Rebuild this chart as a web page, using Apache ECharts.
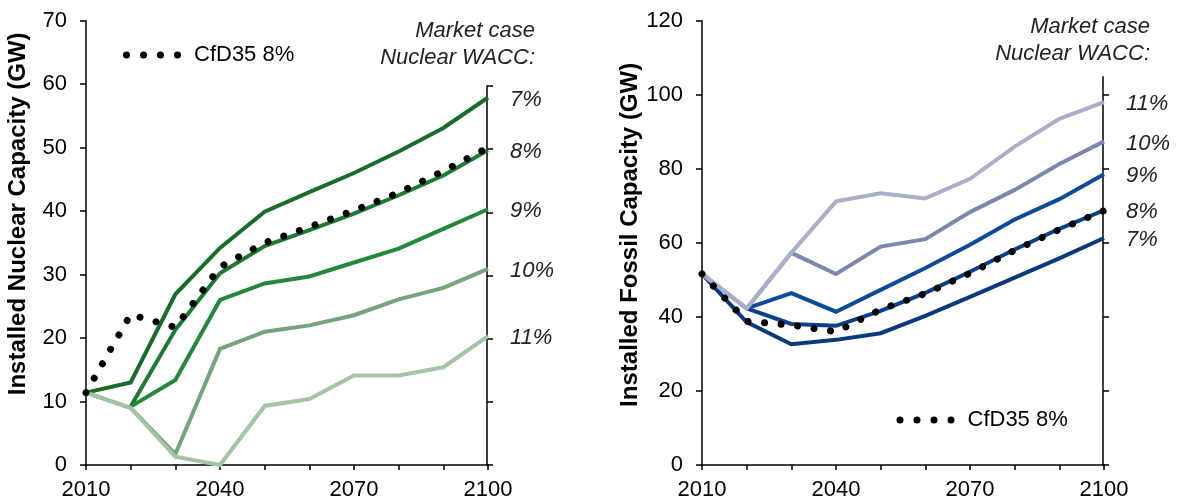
<!DOCTYPE html>
<html>
<head>
<meta charset="utf-8">
<script src="https://cdn.jsdelivr.net/npm/echarts@6/dist/echarts.min.js"></script>
<style>
html,body{margin:0;padding:0;background:#fff;}
#chart{width:1179px;height:504px;}
</style>
</head>
<body>
<div id="chart"></div>
<script>
// ---------- data ----------
var years = [2010, 2020, 2030, 2040, 2050, 2060, 2070, 2080, 2090, 2100];
var xTickLabels = [2010, 2040, 2070, 2100];
var waccNames = ['7%', '8%', '9%', '10%', '11%'];

// Nuclear capacity (GW), market case by nuclear WACC
var nuc7  = [11.4, 13.0, 26.9, 34.2, 39.9, 43.0, 46.0, 49.4, 53.1, 57.9];
var nuc8  = [null, 9.2, 21.3, 30.2, 34.5, 37.0, 39.6, 42.5, 45.6, 49.6];
var nuc9  = [null, 9.2, 13.4, 26.0, 28.6, 29.7, 31.9, 34.1, 37.2, 40.3];
var nuc10 = [11.4, 9.0, 1.7, 18.3, 21.0, 22.0, 23.6, 26.1, 27.9, 30.9];
var nuc11 = [11.4, 9.0, 1.3, 0.0, 9.3, 10.4, 14.1, 14.1, 15.4, 20.3];
var nucCfdYears = [2010, 2015, 2020, 2025, 2030, 2040, 2050, 2060, 2070, 2080, 2090, 2100];
var nucCfd = [11.4, 17.6, 23.7, 22.7, 21.7, 31.2, 35.0, 37.5, 40.1, 42.9, 46.3, 50.0];

// Fossil capacity (GW)
var fos7  = [51.6, 38.6, 32.6, 33.8, 35.6, 40.3, 45.4, 50.6, 55.8, 61.3];
var fos8  = [null, 42.3, 38.1, 37.6, 41.6, 46.5, 52.2, 58.2, 63.8, 68.8];
var fos9  = [null, 42.3, 46.4, 41.4, 47.3, 53.2, 59.5, 66.3, 71.8, 78.5];
var fos10 = [51.6, 42.3, 57.3, 51.6, 59.0, 61.0, 68.3, 74.3, 81.3, 87.4];
var fos11 = [51.6, 42.3, 57.3, 71.2, 73.4, 72.0, 77.3, 86.0, 93.5, 98.0];
var fosCfdYears = [2010, 2020, 2030, 2040, 2050, 2060, 2070, 2080, 2090, 2100];
var fosCfd = [51.6, 38.8, 37.8, 36.0, 42.0, 46.3, 51.8, 58.0, 63.6, 68.7];

var cfdName = 'CfD35 8%';
var headerText = 'Market case\nNuclear WACC:';

// ---------- styling ----------
var FONT = '"Liberation Sans", Arial, "DejaVu Sans", sans-serif';
var greenColors = ['#1b6a2e', '#1c7a35', '#24873c', '#76a37e', '#a4c3a7'];
var blueColors  = ['#0a3a7c', '#0b4086', '#0d4a98', '#7c87ae', '#a9afc8'];

function pairs(xs, ys) { return xs.map(function (x, i) { return [x, ys[i]]; }); }

function xAxisFor(gi) {
  return {
    type: 'value', gridIndex: gi, min: 2010, max: 2100, interval: 10,
    axisLine: { show: true, lineStyle: { color: '#000', width: 1.5 } },
    axisTick: { show: true, length: 5, lineStyle: { color: '#000', width: 1.5 } },
    splitLine: { show: false },
    axisLabel: {
      color: '#000', fontFamily: FONT, fontSize: 22, margin: 14,
      formatter: function (v) { return xTickLabels.indexOf(v) >= 0 ? String(v) : ''; }
    }
  };
}
function hiddenX(gi) {
  return { type: 'value', gridIndex: gi, min: 0, max: 1, show: false };
}

function mainY(gi, max, interval, name, padLeft) {
  return {
    type: 'value', gridIndex: gi, min: 0, max: max, interval: interval, position: 'left',
    name: name, nameLocation: 'middle', nameGap: 56, nameRotate: 90,
    nameTextStyle: { fontFamily: FONT, fontSize: 24, fontWeight: 'bold', color: '#000', padding: [0, 0, 0, padLeft] },
    axisLine: { show: true, lineStyle: { color: '#000', width: 1.5 } },
    axisTick: { show: true, length: 6, lineStyle: { color: '#000', width: 1.5 } },
    splitLine: { show: false },
    axisLabel: { color: '#000', fontFamily: FONT, fontSize: 22, margin: 19 }
  };
}

function sideY(gi, max, interval, ticks) {
  return {
    type: 'value', gridIndex: gi, min: 0, max: max, interval: interval, position: 'right',
    axisLine: { show: true, lineStyle: { color: '#000', width: 1.5 } },
    axisTick: { show: true, length: 6, customValues: ticks, lineStyle: { color: '#000', width: 1.5 } },
    splitLine: { show: false },
    axisLabel: { show: false }
  };
}

function waccSeries(name, data, color, xi, yi) {
  return {
    type: 'line', name: name, xAxisIndex: xi, yAxisIndex: yi,
    data: pairs(years, data), symbol: 'none', silent: true,
    lineStyle: { color: color, width: 4, cap: 'butt', join: 'miter' },
    endLabel: {
      show: true, formatter: name, distance: 22, offset: [0, 2],
      fontFamily: FONT, fontSize: 22, fontStyle: 'italic', color: '#222'
    }
  };
}

function cfdSeries(xs, ys, xi, yi) {
  return {
    type: 'line', name: cfdName, xAxisIndex: xi, yAxisIndex: yi,
    data: pairs(xs, ys), symbol: 'none', silent: true, z: 5,
    lineStyle: { color: '#000', width: 7, type: [0.01, 16.6], cap: 'round' }
  };
}

var dotsIcon = 'path://M0,3.5a3.5,3.5 0 1,0 7,0a3.5,3.5 0 1,0 -7,0M17,3.5a3.5,3.5 0 1,0 7,0a3.5,3.5 0 1,0 -7,0M34,3.5a3.5,3.5 0 1,0 7,0a3.5,3.5 0 1,0 -7,0M51,3.5a3.5,3.5 0 1,0 7,0a3.5,3.5 0 1,0 -7,0';

function legendAt(left, top) {
  return {
    data: [{ name: cfdName, icon: dotsIcon, itemStyle: { color: '#000' } }],
    left: left, top: top, padding: 0, itemWidth: 58, itemHeight: 7,
    selectedMode: false,
    textStyle: { fontFamily: FONT, fontSize: 22, color: '#000', padding: [0, 0, 0, 8] }
  };
}

var series = [];
[nuc7, nuc8, nuc9, nuc10, nuc11].forEach(function (d, i) {
  series.push(waccSeries(waccNames[i], d, greenColors[i], 0, 0));
});
series.push(cfdSeries(nucCfdYears, nucCfd, 0, 0));
[fos7, fos8, fos9, fos10, fos11].forEach(function (d, i) {
  series.push(waccSeries(waccNames[i], d, blueColors[i], 1, 1));
});
series.push(cfdSeries(fosCfdYears, fosCfd, 1, 1));

var headerStyle = { fontFamily: FONT, fontSize: 22, fontStyle: 'italic', fontWeight: 'normal', color: '#222', lineHeight: 27, align: 'right' };

var option = {
  animation: false,
  backgroundColor: '#fff',
  textStyle: { fontFamily: FONT },
  title: [
    { text: headerText, left: 535, top: 17, padding: 0, textAlign: 'right', textStyle: headerStyle },
    { text: headerText, left: 1150, top: 13, padding: 0, textAlign: 'right', textStyle: headerStyle }
  ],
  legend: [legendAt(123, 44), legendAt(896.5, 409)],
  grid: [
    { left: 86, right: 691, top: 20.7, bottom: 39 },
    { left: 702, right: 75, top: 20.7, bottom: 39 },
    { left: 487, right: 691, top: 86, bottom: 39 },
    { left: 1103, right: 75, top: 76.7, bottom: 39 }
  ],
  xAxis: [xAxisFor(0), xAxisFor(1), hiddenX(2), hiddenX(3)],
  yAxis: [
    mainY(0, 70, 10, 'Installed Nuclear Capacity (GW)', 58),
    mainY(1, 120, 20, 'Installed Fossil Capacity (GW)', 16),
    sideY(2, 60, 10, [0, 10, 20, 30, 40, 50, 60]),
    sideY(3, 105, 20, [0, 20, 40, 60, 80, 100])
  ],
  series: series
};

var chart = echarts.init(document.getElementById('chart'), null, { renderer: 'canvas' });
chart.setOption(option);
</script>
</body>
</html>
